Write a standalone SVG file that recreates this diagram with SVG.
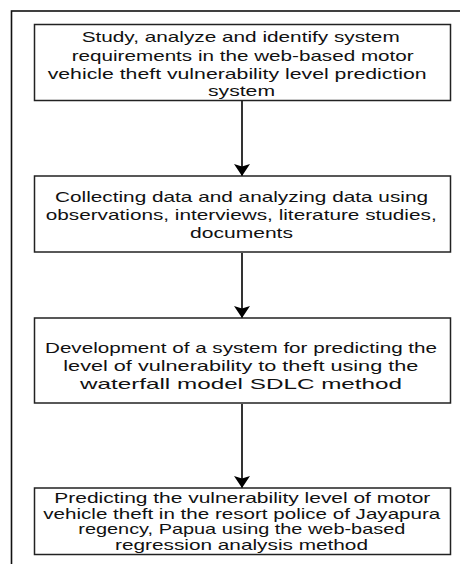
<svg xmlns="http://www.w3.org/2000/svg" width="460" height="564" viewBox="0 0 460 564">
<defs>
<style>
.frame{fill:none;stroke:#111;stroke-width:1.6}
.box{fill:#fff;stroke:#222;stroke-width:1.5}
.t{font-family:"Liberation Sans",Arial,sans-serif;font-size:14.5px;fill:#111}
.edge{fill:none;stroke:#000;stroke-width:1.6}
</style>
<marker id="arr" viewBox="0 0 12 16" refX="12" refY="8" markerWidth="12" markerHeight="16" markerUnits="userSpaceOnUse" orient="auto">
<path d="M0,0 L12,8 L0,16 L2.5,8 Z" fill="#000"/>
</marker>
</defs>
<rect width="460" height="564" fill="#fff"/>
<rect class="frame" x="11.5" y="11" width="470" height="600"/>
<g id="connectors">
<line class="edge" x1="242" y1="101" x2="242" y2="176" marker-end="url(#arr)"/>
<line class="edge" x1="242" y1="253" x2="242" y2="318" marker-end="url(#arr)"/>
<line class="edge" x1="242" y1="404" x2="242" y2="488" marker-end="url(#arr)"/>
</g>
<g id="node1">
<rect class="box" x="34.5" y="24.5" width="416" height="76"/>
<text class="t" x="81.7" y="42" textLength="318" lengthAdjust="spacingAndGlyphs">Study, analyze and identify system</text>
<text class="t" x="71.7" y="60.5" textLength="342" lengthAdjust="spacingAndGlyphs">requirements in the web-based motor</text>
<text class="t" x="47.7" y="79" textLength="379" lengthAdjust="spacingAndGlyphs">vehicle theft vulnerability level prediction</text>
<text class="t" x="208" y="96" textLength="67" lengthAdjust="spacingAndGlyphs">system</text>
</g>
<g id="node2">
<rect class="box" x="34.5" y="176" width="416" height="76"/>
<text class="t" x="55" y="202" textLength="373" lengthAdjust="spacingAndGlyphs">Collecting data and analyzing data using</text>
<text class="t" x="45.7" y="219.5" textLength="391" lengthAdjust="spacingAndGlyphs">observations, interviews, literature studies,</text>
<text class="t" x="190" y="237.5" textLength="103" lengthAdjust="spacingAndGlyphs">documents</text>
</g>
<g id="node3">
<rect class="box" x="34.5" y="318" width="416" height="85"/>
<text class="t" x="45" y="352.5" textLength="392" lengthAdjust="spacingAndGlyphs">Development of a system for predicting the</text>
<text class="t" x="63.3" y="370.5" textLength="355" lengthAdjust="spacingAndGlyphs">level of vulnerability to theft using the</text>
<text class="t" x="80" y="388.5" textLength="322" lengthAdjust="spacingAndGlyphs">waterfall model SDLC method</text>
</g>
<g id="node4">
<rect class="box" x="34.5" y="488" width="416" height="66.5"/>
<text class="t" x="54.3" y="503" textLength="376" lengthAdjust="spacingAndGlyphs">Predicting the vulnerability level of motor</text>
<text class="t" x="43.3" y="518.5" textLength="397" lengthAdjust="spacingAndGlyphs">vehicle theft in the resort police of Jayapura</text>
<text class="t" x="78.3" y="534" textLength="327" lengthAdjust="spacingAndGlyphs">regency, Papua using the web-based</text>
<text class="t" x="115" y="549.5" textLength="253" lengthAdjust="spacingAndGlyphs">regression analysis method</text>
</g>
</svg>
